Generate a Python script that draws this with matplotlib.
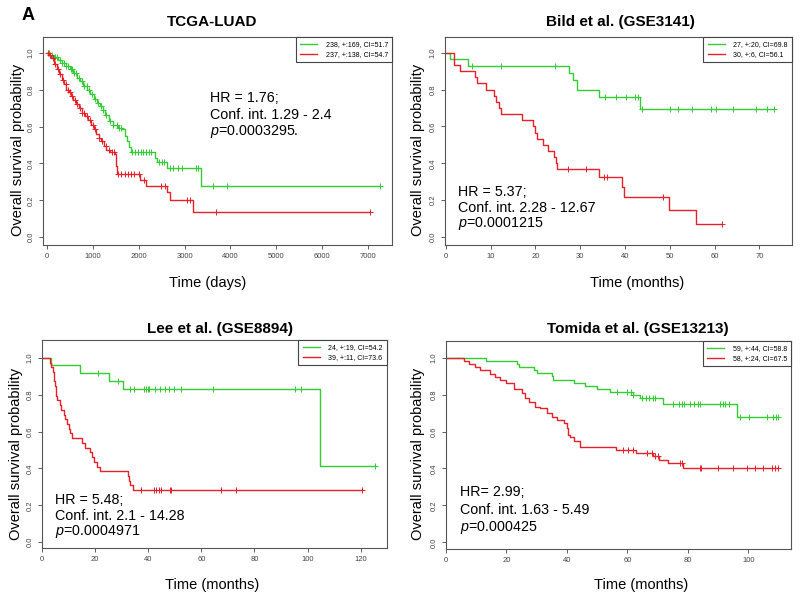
import numpy as np
import matplotlib
matplotlib.use("Agg")
from matplotlib import pyplot as plt
from matplotlib.lines import Line2D

plt.rcParams['font.family'] = ['Liberation Sans', 'DejaVu Sans']
plt.rcParams['mathtext.fontset'] = 'custom'
plt.rcParams['mathtext.it'] = 'Liberation Sans:italic'
plt.rcParams['mathtext.rm'] = 'Liberation Sans'

GREEN = '#33cc33'
RED = '#e8202a'
GRAY = '#555555'

# ---------------- TCGA-LUAD (days) ----------------
tcga_g_t = [60, 150, 250, 330, 420, 500, 580, 650, 720, 800, 880, 950, 1030, 1100, 1170,
            1230, 1280, 1350, 1450, 1560, 1640, 1700, 1750, 1800, 1840, 2360, 2400, 2620, 3360]
tcga_g_s = [0.99, 0.975, 0.96, 0.945, 0.93, 0.91, 0.89, 0.865, 0.845, 0.82, 0.80, 0.775, 0.75, 0.73, 0.71,
            0.69, 0.66, 0.63, 0.61, 0.59, 0.585, 0.55, 0.52, 0.49, 0.46, 0.43, 0.41, 0.375, 0.28]
tcga_g_c = [50, 120, 180, 230, 280, 330, 380, 420, 470, 520, 560, 600, 640, 700, 760, 820, 870, 930,
            980, 1050, 1120, 1180, 1230, 1300, 1380, 1450, 1520, 1580, 1620, 1860, 1920, 1980, 2050,
            2100, 2160, 2220, 2280, 2450, 2520, 2560, 2680, 2750, 2850, 2950, 3250, 3300, 3626, 3930, 7252]
tcga_r_t = [40, 100, 160, 220, 270, 330, 380, 430, 480, 530, 580, 640, 700, 760, 830, 900, 960, 1020,
            1080, 1130, 1180, 1240, 1300, 1380, 1480, 1500, 1540, 2030, 2170, 2610, 2690, 3180]
tcga_r_s = [0.985, 0.97, 0.94, 0.91, 0.885, 0.85, 0.83, 0.80, 0.785, 0.765, 0.745, 0.72, 0.70, 0.675,
            0.655, 0.635, 0.61, 0.585, 0.56, 0.54, 0.52, 0.495, 0.475, 0.46, 0.45, 0.385, 0.34, 0.31,
            0.28, 0.245, 0.20, 0.135]
tcga_r_c = [30, 80, 140, 190, 240, 300, 350, 410, 460, 510, 560, 610, 660, 720, 770, 820, 880, 940, 1000,
            1060, 1130, 1200, 1290, 1350, 1420, 1460, 1560, 1620, 1700, 1780, 1830, 1900, 2000, 2120,
            2480, 2580, 3060, 3120, 3677, 7034]

# ---------------- Bild et al. (months) ----------------
bild_g_t = [0.9, 5.0, 27.5, 28.4, 29.2, 34.3, 43.3]
bild_g_s = [0.963, 0.926, 0.889, 0.852, 0.80, 0.757, 0.696]
bild_g_c = [5.9, 12.4, 24.3, 35.5, 38.0, 40.2, 42.2, 42.8, 43.7, 50.0, 51.9, 55.0, 59.3, 60.3, 64.2,
            69.2, 71.8, 73.3]
bild_r_t = [1.8, 3.1, 6.5, 7.0, 8.9, 10.8, 11.3, 11.9, 12.4, 17.1, 19.4, 19.9, 20.4, 21.6, 22.9,
            24.2, 24.6, 24.9, 34.1, 39.3, 39.7, 49.9, 55.9]
bild_r_s = [0.933, 0.90, 0.867, 0.833, 0.80, 0.767, 0.733, 0.70, 0.667, 0.633, 0.60, 0.567, 0.533,
            0.50, 0.467, 0.433, 0.40, 0.367, 0.327, 0.273, 0.218, 0.145, 0.073]
bild_r_c = [27.3, 31.4, 35.3, 36.0, 48.5, 61.6]

# ---------------- Lee et al. (months) ----------------
lee_g_t = [3.4, 14.2, 25.1, 30.5, 104.8]
lee_g_s = [0.958, 0.917, 0.875, 0.83, 0.415]
lee_g_c = [20.9, 28.8, 33.2, 34.7, 38.5, 39.2, 39.9, 40.4, 42.6, 44.5, 46.4, 47.9, 49.8, 52.4, 64.2,
           95.2, 97.4, 125.4]
lee_r_t = [2.9, 3.4, 4.0, 4.4, 4.7, 4.9, 5.1, 5.3, 5.7, 6.6, 7.1, 8.2, 8.8, 9.4, 10.0, 10.7, 11.3,
           15.0, 16.3, 17.9, 18.8, 19.4, 20.7, 21.9, 32.2, 32.6, 33.2, 34.2]
lee_r_s = [0.974, 0.949, 0.923, 0.897, 0.872, 0.846, 0.82, 0.795, 0.77, 0.744, 0.718, 0.692, 0.667,
           0.641, 0.615, 0.59, 0.564, 0.538, 0.513, 0.487, 0.462, 0.436, 0.41, 0.385, 0.359, 0.333,
           0.308, 0.282]
lee_r_c = [37.2, 42.0, 43.0, 43.9, 44.9, 48.3, 48.7, 67.5, 73.0, 120.4]

# ---------------- Tomida et al. (months) ----------------
tom_g_t = [13.3, 23.5, 24.1, 29.0, 30.1, 35.0, 35.3, 42.2, 46.0, 49.9, 54.1, 61.7, 64.0, 71.7, 96.4]
tom_g_s = [0.983, 0.966, 0.949, 0.932, 0.915, 0.898, 0.88, 0.864, 0.847, 0.83, 0.813, 0.796, 0.779,
           0.75, 0.68]
tom_g_c = [56.7, 59.8, 61.2, 62.0, 64.8, 66.2, 67.3, 68.3, 69.2, 75.2, 77.2, 78.0, 78.6, 80.8, 81.9,
           83.5, 84.1, 90.6, 91.5, 92.3, 93.7, 97.3, 100.3, 106.1, 108.1, 109.1, 109.9]
tom_r_t = [5.8, 7.5, 9.7, 11.3, 14.4, 16.1, 18.0, 20.0, 22.4, 25.1, 26.2, 27.6, 29.5, 31.2, 33.4,
           35.0, 36.7, 38.9, 40.0, 40.5, 41.1, 42.2, 44.4, 56.3, 62.9, 68.4, 70.3, 73.3, 78.3]
tom_r_s = [0.983, 0.966, 0.948, 0.931, 0.914, 0.897, 0.879, 0.862, 0.828, 0.81, 0.78, 0.762, 0.735,
           0.726, 0.70, 0.68, 0.66, 0.644, 0.617, 0.58, 0.568, 0.55, 0.518, 0.50, 0.483, 0.466, 0.448,
           0.431, 0.40]
tom_r_c = [58.7, 60.1, 62.0, 66.4, 68.0, 69.1, 70.0, 77.4, 78.0, 84.0, 84.4, 90.0, 95.0, 99.4, 102.2,
           104.9, 107.7, 108.8, 109.9]

titles = ['TCGA-LUAD', 'Bild et al. (GSE3141)', 'Lee et al. (GSE8894)', 'Tomida et al. (GSE13213)']
xlabels = ['Time (days)', 'Time (months)', 'Time (months)', 'Time (months)']
legend_g = ['238, +:169, CI=51.7', '27, +:20, CI=69.8', '24, +:19, CI=54.2', '59, +:44, CI=58.8']
legend_r = ['237, +:138, CI=54.7', '30, +:6, CI=56.1', '39, +:11, CI=73.6', '58, +:24, CI=67.5']
stats = [['HR = 1.76;', 'Conf. int. 1.29 - 2.4', '$p$=0.0003295.'],
         ['HR = 5.37;', 'Conf. int. 2.28 - 12.67', '$p$=0.0001215'],
         ['HR = 5.48;', 'Conf. int. 2.1 - 14.28', '$p$=0.0004971'],
         ['HR= 2.99;', 'Conf. int. 1.63 - 5.49', '$p$=0.000425']]


def km(ax, t, s, cens, color):
    t = np.r_[0.0, t]
    s = np.r_[1.0, s]
    tend = max(t[-1], max(cens))
    ax.step(np.r_[t, tend], np.r_[s, s[-1]], where='post', color=color, lw=1.0)
    idx = np.searchsorted(t, cens, side='right') - 1
    ax.plot(cens, s[idx], ls='none', marker='+', ms=4, mew=0.7, color=color)


fig = plt.figure(figsize=(8, 6.01), dpi=100)
W, H = 800.0, 601.0
# layout, in pixels
boxes = [(43, 37, 392, 245), (445, 37, 792, 245), (42, 340, 387, 548), (446, 341, 791, 549)]
xlims = [(-80, 7516), (-0.2, 77.3), (0, 129.9), (0, 114.1)]
ylims = [(-0.042, 1.085), (-0.043, 1.085), (-0.031, 1.096), (-0.036, 1.09)]
xticks = [np.arange(0, 7001, 1000), np.arange(0, 71, 10), np.arange(0, 121, 20), np.arange(0, 101, 20)]
title_pos = [(212, 22), (620, 22), (220, 329), (638, 329)]
xlab_pos = [(208, 283), (637, 283), (212, 585), (641, 585)]
ylab_pos = [(18, 150), (418, 150), (16, 454), (418, 454)]
text_x = [210, 458, 55, 460]
text_y = [(98, 115, 132), (192, 208, 224), (500, 516, 532), (492, 510, 528)]

data = [(tcga_g_t, tcga_g_s, tcga_g_c, tcga_r_t, tcga_r_s, tcga_r_c),
        (bild_g_t, bild_g_s, bild_g_c, bild_r_t, bild_r_s, bild_r_c),
        (lee_g_t, lee_g_s, lee_g_c, lee_r_t, lee_r_s, lee_r_c),
        (tom_g_t, tom_g_s, tom_g_c, tom_r_t, tom_r_s, tom_r_c)]

for i in range(4):
    l, tp, r, b = boxes[i]
    ax = fig.add_axes([l / W, (H - b) / H, (r - l) / W, (b - tp) / H])
    gt, gs, gc, rt, rs, rc = data[i]
    km(ax, gt, gs, gc, GREEN)
    km(ax, rt, rs, rc, RED)

    ax.set_xlim(*xlims[i])
    ax.set_ylim(*ylims[i])
    ax.set_xticks(xticks[i])
    ax.set_yticks(np.arange(0, 1.01, 0.2))
    ax.set_yticklabels(['%.1f' % v for v in np.arange(0, 1.01, 0.2)], rotation=90, va='center')
    ax.tick_params(labelsize=5.5, colors='#444444', length=3, width=0.6, pad=3)
    for sp in ax.spines.values():
        sp.set_color(GRAY)
        sp.set_linewidth(0.8)

    handles = [Line2D([], [], color=GREEN, lw=1), Line2D([], [], color=RED, lw=1)]
    leg = ax.legend(handles, [legend_g[i], legend_r[i]], loc='upper right', fontsize=5,
                    borderaxespad=0, fancybox=False, framealpha=1, handlelength=2.5,
                    handletextpad=1.2, borderpad=0.6, labelspacing=0.4)
    leg.get_frame().set_edgecolor('#444444')
    leg.get_frame().set_linewidth(0.8)

    x, y = title_pos[i]
    fig.text(x / W, 1 - y / H, titles[i], fontsize=11, fontweight='bold', ha='center', va='center')
    x, y = xlab_pos[i]
    fig.text(x / W, 1 - y / H, xlabels[i], fontsize=10.5, ha='center', va='center')
    x, y = ylab_pos[i]
    fig.text(x / W, 1 - y / H, 'Overall survival probability', fontsize=10.5, rotation=90,
             ha='center', va='center')
    for line, y in zip(stats[i], text_y[i]):
        fig.text(text_x[i] / W, 1 - y / H, line, fontsize=10.3, ha='left', va='center')

fig.text(28 / W, 1 - 15 / H, 'A', fontsize=13, fontweight='bold', ha='center', va='center')

fig.savefig('out.png', dpi=100)
